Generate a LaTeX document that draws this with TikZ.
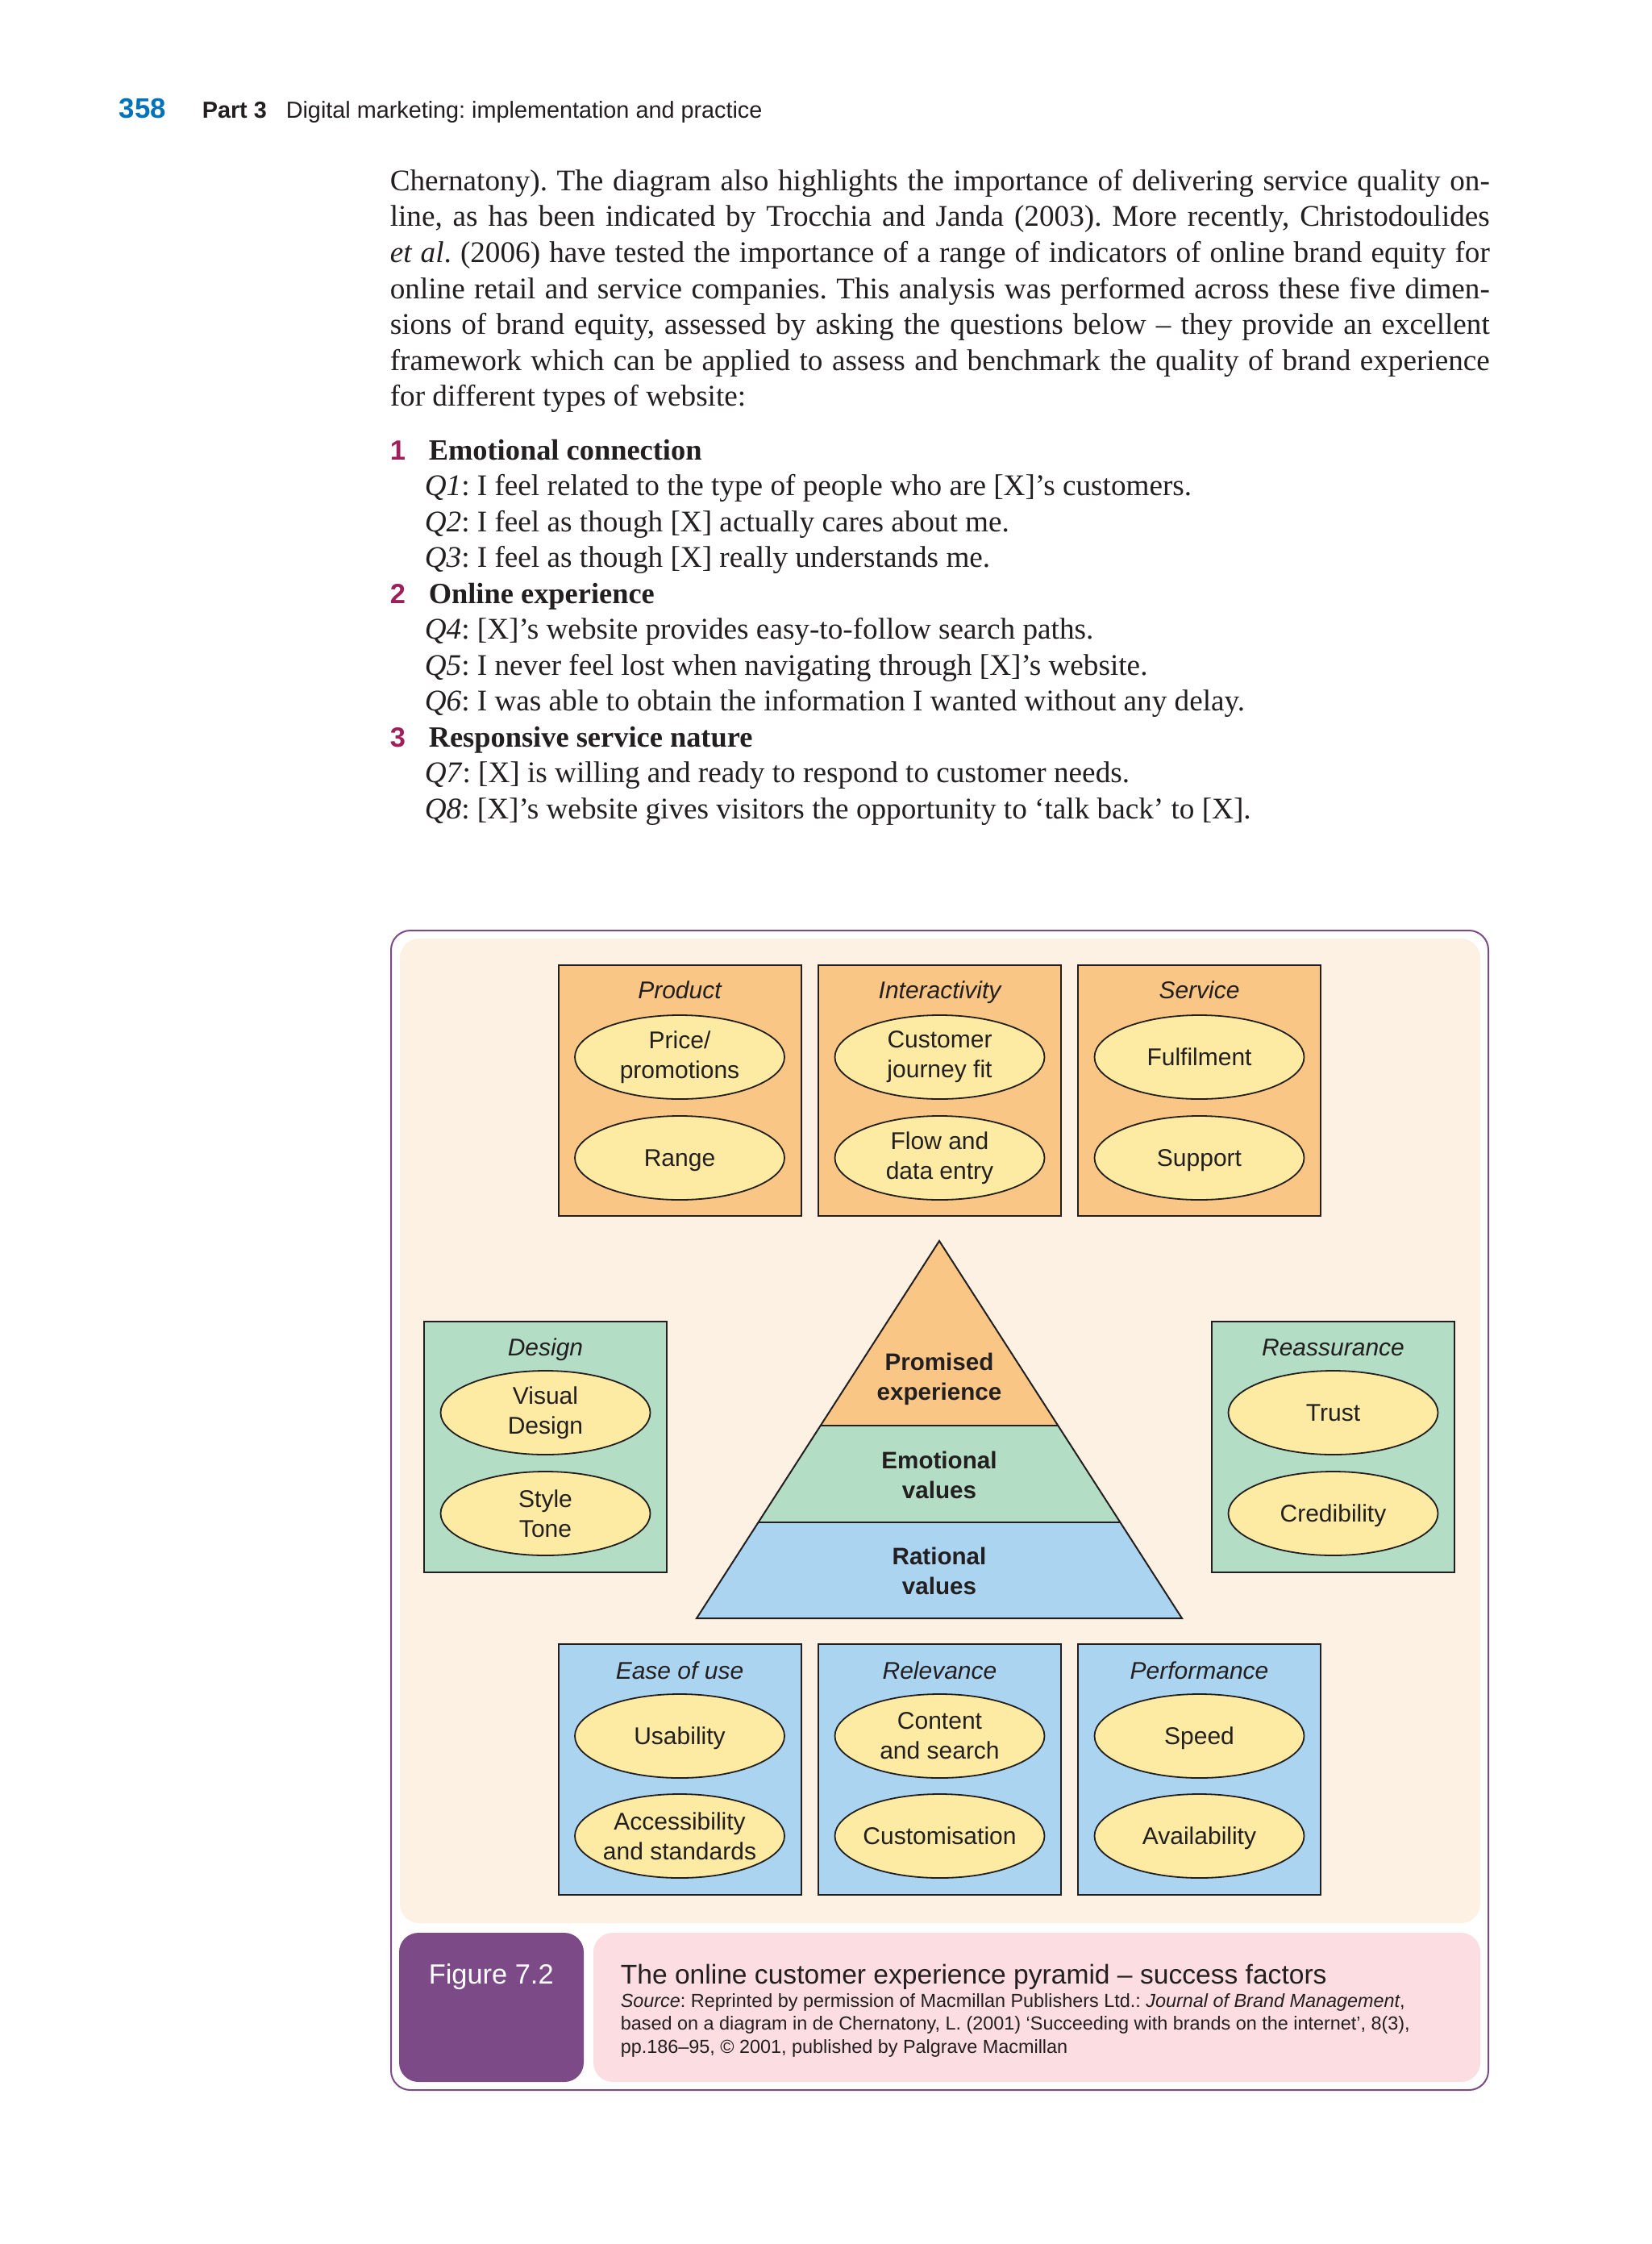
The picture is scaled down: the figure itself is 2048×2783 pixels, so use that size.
\documentclass[tikz,border=0pt]{standalone}
\usepackage{fontspec}
\setmainfont{Liberation Serif}
\setsansfont{Liberation Sans}
\usetikzlibrary{shapes.geometric}
\definecolor{orangebox}{RGB}{249,198,134}
\definecolor{yellowell}{RGB}{253,235,163}
\definecolor{greenbox}{RGB}{179,221,196}
\definecolor{bluebox}{RGB}{170,212,240}
\definecolor{creambg}{RGB}{253,241,227}
\definecolor{figpurple}{RGB}{123,74,135}
\definecolor{capink}{RGB}{251,221,226}
\definecolor{pageblue}{RGB}{0,114,186}
\definecolor{numred}{RGB}{158,31,90}
\definecolor{inkdark}{RGB}{35,31,32}
\frenchspacing
\begin{document}
\begin{tikzpicture}[x=0.25pt,y=-0.25pt,
  txt/.style={inner sep=0pt, text=inkdark},
  bodyln/.style={txt, anchor=base west, font=\fontsize{9.3}{11}\selectfont},
  headln/.style={txt, anchor=base west, font=\bfseries\fontsize{9.1}{11}\selectfont},
  numln/.style={inner sep=0pt, anchor=base west, text=numred, font=\sffamily\bfseries\fontsize{8.6}{10}\selectfont},
  colbox/.style={draw=inkdark, line width=0.5pt, minimum width=75.25pt, minimum height=77.75pt, inner sep=0pt},
  obox/.style={colbox, fill=orangebox},
  gbox/.style={colbox, fill=greenbox},
  bbox/.style={colbox, fill=bluebox},
  ell/.style={ellipse, draw=inkdark, line width=0.45pt, fill=yellowell, minimum width=65pt, minimum height=26pt, inner sep=0pt},
  elltext/.style={txt, align=center, font=\sffamily\fontsize{7.5}{9.3}\selectfont},
  oneline/.style={text height=5.4pt, text depth=0pt},
  boxtitle/.style={txt, anchor=base, font=\sffamily\itshape\fontsize{7.5}{9.3}\selectfont},
  pyrtext/.style={txt, align=center, font=\sffamily\bfseries\fontsize{7.4}{9.3}\selectfont},
  srcln/.style={txt, anchor=base west, font=\sffamily\fontsize{5.85}{7.1}\selectfont},
]
\useasboundingbox[fill=white] (0,0) rectangle (2048,2783);

% ---------- running head ----------
\node[anchor=base west, inner sep=0pt, text=pageblue, font=\sffamily\bfseries\fontsize{8.7}{10}\selectfont] (pgnum) at (147,147) {358};
\node[txt, anchor=base west, font=\sffamily\bfseries\fontsize{7.2}{9}\selectfont] (part) at (250,147) {Part 3};
\node[txt, anchor=base west, font=\sffamily\fontsize{7.2}{9}\selectfont] (runhead) at (354,147) {Digital marketing: implementation and practice};

% ---------- body text ----------
\node[bodyln] (t1) at (483,236.5) {\makebox[341pt][s]{Chernatony). The diagram also highlights the importance of delivering service quality on-}};
\node[bodyln] (t2) at (483,281) {\makebox[341pt][s]{line, as has been indicated by Trocchia and Janda (2003). More recently, Christodoulides}};
\node[bodyln] (t3) at (483,325.5) {\makebox[341pt][s]{\textit{et al}. (2006) have tested the importance of a range of indicators of online brand equity for}};
\node[bodyln] (t4) at (483,370) {\makebox[341pt][s]{online retail and service companies. This analysis was performed across these five dimen-}};
\node[bodyln] (t5) at (483,414.5) {\makebox[341pt][s]{sions of brand equity, assessed by asking the questions below – they provide an excellent}};
\node[bodyln] (t6) at (483,459) {\makebox[341pt][s]{framework which can be applied to assess and benchmark the quality of brand experience}};
\node[bodyln] (t7) at (483,503.5) {for different types of website:};

% ---------- list ----------
\node[numln] (n1) at (483,570) {1};
\node[headln] (h1) at (531,570) {Emotional connection};
\node[bodyln] (q1) at (526,614.5) {\textit{Q1}: I feel related to the type of people who are [X]’s customers.};
\node[bodyln] (q2) at (526,659) {\textit{Q2}: I feel as though [X] actually cares about me.};
\node[bodyln] (q3) at (526,703.5) {\textit{Q3}: I feel as though [X] really understands me.};
\node[numln] (n2) at (483,748) {2};
\node[headln] (h2) at (531,748) {Online experience};
\node[bodyln] (q4) at (526,792.5) {\textit{Q4}: [X]’s website provides easy-to-follow search paths.};
\node[bodyln] (q5) at (526,837) {\textit{Q5}: I never feel lost when navigating through [X]’s website.};
\node[bodyln] (q6) at (526,881.5) {\textit{Q6}: I was able to obtain the information I wanted without any delay.};
\node[numln] (n3) at (483,926) {3};
\node[headln] (h3) at (531,926) {Responsive service nature};
\node[bodyln] (q7) at (526,970.5) {\textit{Q7}: [X] is willing and ready to respond to customer needs.};
\node[bodyln] (q8) at (526,1015) {\textit{Q8}: [X]’s website gives visitors the opportunity to ‘talk back’ to [X].};

% ---------- figure frame ----------
\draw[figpurple, line width=0.5pt, rounded corners=6pt, fill=white] (485,1154) rectangle (1846,2592);
\fill[creambg, rounded corners=6pt] (496,1164) rectangle (1836,2385);
\fill[figpurple, rounded corners=6pt] (495,2397) rectangle (724,2582);
\fill[capink, rounded corners=6pt] (736,2397) rectangle (1836,2582);

% ---------- top row (orange) ----------
\node[obox] (product) at (843,1352.5) {};
\node[obox] (interact) at (1165.5,1352.5) {};
\node[obox] (service) at (1487.5,1352.5) {};
\node[boxtitle] (productT) at (843,1238) {Product};
\node[boxtitle] (interactT) at (1165.5,1238) {Interactivity};
\node[boxtitle] (serviceT) at (1487.5,1238) {Service};
\node[ell] (price) at (843,1311) {};
\node[elltext] (priceT) at (price) {Price/\\promotions};
\node[ell] (range) at (843,1436) {};
\node[elltext, oneline] (rangeT) at (range) {Range};
\node[ell] (journey) at (1165.5,1311) {};
\node[elltext] (journeyT) at (journey) {Customer\\journey fit};
\node[ell] (flow) at (1165.5,1436) {};
\node[elltext] (flowT) at (flow) {Flow and\\data entry};
\node[ell] (fulfil) at (1487.5,1311) {};
\node[elltext, oneline] (fulfilT) at (fulfil) {Fulfilment};
\node[ell] (support) at (1487.5,1436) {};
\node[elltext, oneline] (supportT) at (support) {Support};

% ---------- middle row (green) ----------
\node[gbox] (design) at (676.5,1794) {};
\node[gbox] (reassure) at (1653.5,1794) {};
\node[boxtitle] (designT) at (676.5,1681) {Design};
\node[boxtitle] (reassureT) at (1653.5,1681) {Reassurance};
\node[ell] (visual) at (676.5,1752) {};
\node[elltext] (visualT) at (visual) {Visual\\Design};
\node[ell] (style) at (676.5,1877) {};
\node[elltext] (styleT) at (style) {Style\\Tone};
\node[ell] (trust) at (1653.5,1752) {};
\node[elltext, oneline] (trustT) at (trust) {Trust};
\node[ell] (cred) at (1653.5,1877) {};
\node[elltext, oneline] (credT) at (cred) {Credibility};

% ---------- pyramid ----------
\coordinate (apex) at (1165,1539);
\coordinate (l1l) at (1018,1768);
\coordinate (l1r) at (1312,1768);
\coordinate (l2l) at (940.5,1888);
\coordinate (l2r) at (1389.5,1888);
\coordinate (bl) at (864,2007);
\coordinate (br) at (1466,2007);
\fill[orangebox] (apex) -- (l1r) -- (l1l) -- cycle;
\fill[greenbox] (l1l) -- (l1r) -- (l2r) -- (l2l) -- cycle;
\fill[bluebox] (l2l) -- (l2r) -- (br) -- (bl) -- cycle;
\draw[inkdark, line width=0.5pt] (apex) -- (br) -- (bl) -- cycle;
\draw[inkdark, line width=0.55pt] (l1l) -- (l1r);
\draw[inkdark, line width=0.55pt] (l2l) -- (l2r);
\node[pyrtext] (promised) at (1165,1710) {Promised\\experience};
\node[pyrtext] (emotional) at (1165,1829) {Emotional\\values};
\node[pyrtext] (rational) at (1165,1948) {Rational\\values};

% ---------- bottom row (blue) ----------
\node[bbox] (ease) at (843,2194.5) {};
\node[bbox] (relev) at (1165.5,2194.5) {};
\node[bbox] (perf) at (1487.5,2194.5) {};
\node[boxtitle] (easeT) at (843,2082) {Ease of use};
\node[boxtitle] (relevT) at (1165.5,2082) {Relevance};
\node[boxtitle] (perfT) at (1487.5,2082) {Performance};
\node[ell] (usab) at (843,2153) {};
\node[elltext, oneline] (usabT) at (usab) {Usability};
\node[ell] (access) at (843,2277) {};
\node[elltext] (accessT) at (access) {Accessibility\\and standards};
\node[ell] (content) at (1165.5,2153) {};
\node[elltext] (contentT) at (content) {Content\\and search};
\node[ell] (custom) at (1165.5,2277) {};
\node[elltext, oneline] (customT) at (custom) {Customisation};
\node[ell] (speed) at (1487.5,2153) {};
\node[elltext, oneline] (speedT) at (speed) {Speed};
\node[ell] (avail) at (1487.5,2277) {};
\node[elltext, oneline] (availT) at (avail) {Availability};

% ---------- caption ----------
\node[anchor=base west, inner sep=0pt, text=white, font=\sffamily\fontsize{8.6}{10}\selectfont] (figlab) at (531,2460) {Figure 7.2};
\node[txt, anchor=base west, font=\sffamily\fontsize{8.4}{10}\selectfont] (captitle) at (769,2460) {The online customer experience pyramid – success factors};
\node[srcln] (src1) at (769,2489) {\textit{Source}: Reprinted by permission of Macmillan Publishers Ltd.: \textit{Journal of Brand Management},};
\node[srcln] (src2) at (769,2517.5) {based on a diagram in de Chernatony, L. (2001) ‘Succeeding with brands on the internet’, 8(3),};
\node[srcln] (src3) at (769,2546) {pp.186–95, © 2001, published by Palgrave Macmillan};
\end{tikzpicture}
\end{document}
